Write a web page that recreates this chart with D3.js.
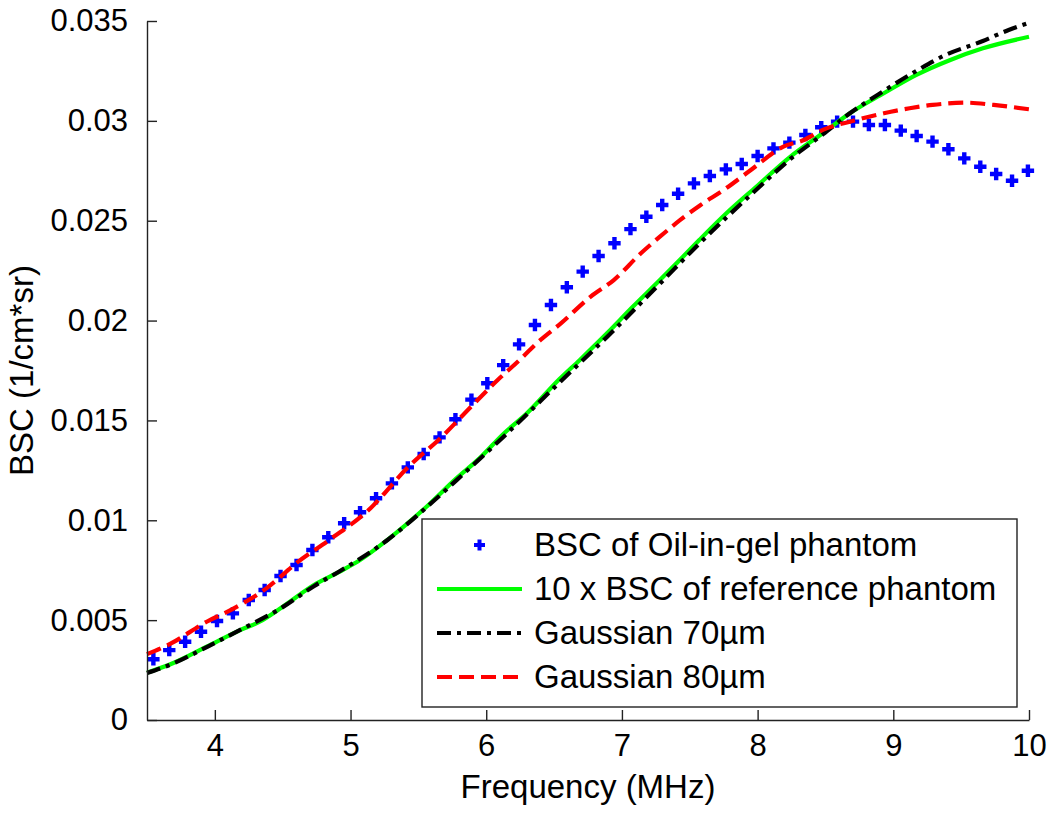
<!DOCTYPE html>
<html>
<head>
<meta charset="utf-8">
<script src="https://cdn.jsdelivr.net/npm/d3@7/dist/d3.min.js"></script>
<style>
  html, body { margin: 0; padding: 0; background: #fff; }
  svg { display: block; }
  text { font-family: "Liberation Sans", Arial, Helvetica, sans-serif; fill: #000; }
</style>
</head>
<body>
<svg id="chart" width="1050" height="813"></svg>
<script>
// ---------------- data ----------------
const xTicks = [4, 5, 6, 7, 8, 9, 10];
const yTicks = [0, 0.005, 0.01, 0.015, 0.02, 0.025, 0.03, 0.035];
const yTickLabels = ["0", "0.005", "0.01", "0.015", "0.02", "0.025", "0.03", "0.035"];

// BSC of Oil-in-gel phantom (blue crosses)
const oilFreq = [3.547, 3.664, 3.781, 3.898, 4.016, 4.133, 4.250, 4.367, 4.484, 4.602,
  4.719, 4.836, 4.953, 5.070, 5.188, 5.305, 5.422, 5.539, 5.656, 5.773,
  5.891, 6.008, 6.125, 6.242, 6.359, 6.477, 6.594, 6.711, 6.828, 6.945,
  7.063, 7.180, 7.297, 7.414, 7.531, 7.648, 7.766, 7.883, 8.000, 8.117,
  8.234, 8.352, 8.469, 8.586, 8.703, 8.820, 8.938, 9.055, 9.172, 9.289,
  9.406, 9.523, 9.641, 9.758, 9.875, 9.992];
const oilBSC = [0.00304, 0.00350, 0.00392, 0.00442, 0.00496, 0.00534, 0.00601, 0.00651, 0.00721, 0.00776,
  0.00851, 0.00915, 0.00985, 0.01040, 0.01110, 0.01185, 0.01265, 0.01332, 0.01415, 0.01506,
  0.01604, 0.01686, 0.01777, 0.01881, 0.01978, 0.02078, 0.02167, 0.02245, 0.02323, 0.02387,
  0.02458, 0.02520, 0.02579, 0.02635, 0.02687, 0.02724, 0.02757, 0.02784, 0.02824, 0.02862,
  0.02891, 0.02929, 0.02968, 0.02996, 0.02996, 0.02979, 0.02979, 0.02951, 0.02924, 0.02896,
  0.02858, 0.02812, 0.02770, 0.02734, 0.02700, 0.02750];

// 10 x BSC of reference phantom (green)
const refFreq = [3.50, 3.69, 3.94, 4.19, 4.33, 4.50, 4.73, 4.92, 5.07, 5.27, 5.56, 5.78, 5.95, 6.13,
  6.30, 6.54, 6.69, 6.89, 7.08, 7.28, 7.45, 7.57, 7.77, 7.99, 8.24, 8.48, 8.68, 8.93, 9.17,
  9.42, 9.66, 10.0];
const refBSC = [0.00237, 0.00284, 0.00367, 0.00451, 0.00492, 0.00567, 0.00676, 0.00743, 0.00801, 0.00901,
  0.01068, 0.01210, 0.01310, 0.01435, 0.01536, 0.01707, 0.01803, 0.01936, 0.02069, 0.02203,
  0.02320, 0.02403, 0.02537, 0.02670, 0.02820, 0.02938, 0.03038, 0.03138, 0.03230, 0.03305,
  0.03363, 0.03421];

// Gaussian 70um (black dash-dot)
const g70Freq = [3.50, 3.69, 3.94, 4.19, 4.50, 4.73, 4.92, 5.27, 5.56, 5.78, 6.13, 6.54, 6.89,
  7.28, 7.57, 7.99, 8.24, 8.48, 8.68, 8.93, 9.17, 9.37, 9.66, 9.85, 10.0];
const g70BSC = [0.00235, 0.00282, 0.00365, 0.00452, 0.00565, 0.00670, 0.00745, 0.00900, 0.01065,
  0.01200, 0.01420, 0.01690, 0.01918, 0.02185, 0.02385, 0.02655, 0.02808, 0.02932, 0.03038,
  0.03150, 0.03250, 0.03325, 0.03400, 0.03455, 0.03491];

// Gaussian 80um (red dashed)
const g80Freq = [3.50, 3.67, 3.94, 4.14, 4.38, 4.60, 4.85, 5.12, 5.44, 5.66, 5.90, 6.09, 6.22,
  6.40, 6.55, 6.77, 6.94, 7.14, 7.28, 7.43, 7.58, 7.75, 7.95, 8.19, 8.34, 8.48, 8.68, 8.93,
  9.12, 9.29, 9.54, 9.74, 10.0];
const g80BSC = [0.00330, 0.00381, 0.00492, 0.00559, 0.00659, 0.00785, 0.00905, 0.01043, 0.01277,
  0.01410, 0.01577, 0.01706, 0.01786, 0.01903, 0.01986, 0.02120, 0.02203, 0.02337, 0.02420,
  0.02504, 0.02579, 0.02654, 0.02754, 0.02871, 0.02904, 0.02955, 0.02996, 0.03038, 0.03063,
  0.03080, 0.03091, 0.03080, 0.03058];

const legendLabels = ["BSC of Oil-in-gel phantom", "10 x BSC of reference phantom", "Gaussian 70\u00b5m", "Gaussian 80\u00b5m"];

// ---------------- drawing ----------------
const svg = d3.select("#chart");
const L = 147, R = 1029, T = 21, B = 720;
const x = d3.scaleLinear().domain([3.5, 10]).range([L, R]);
const y = d3.scaleLinear().domain([0, 0.035]).range([B, T]);
const axisColor = "#222";
const fsTick = 31, fsLabel = 33;

const zip = (a, b) => a.map((f, i) => [f, b[i]]);
const line = d3.line().x(d => x(d[0])).y(d => y(d[1])).curve(d3.curveMonotoneX);

const plot = svg.append("g");
const crossPath = s => `M${-s},0H${s}M0,${-s}V${s}`;

// crosses
plot.append("g").selectAll("path").data(zip(oilFreq, oilBSC)).join("path")
  .attr("transform", d => `translate(${x(d[0])},${y(d[1])})`)
  .attr("d", crossPath(6.2))
  .attr("stroke", "#0000ff").attr("stroke-width", 4.4).attr("fill", "none");

// green
plot.append("path").datum(zip(refFreq, refBSC)).attr("d", line)
  .attr("fill", "none").attr("stroke", "#00ff00").attr("stroke-width", 4.2);
// black dash-dot
plot.append("path").datum(zip(g70Freq, g70BSC)).attr("d", line)
  .attr("fill", "none").attr("stroke", "#000").attr("stroke-width", 4.2)
  .attr("stroke-dasharray", "14,6,4,6");
// red dashed
plot.append("path").datum(zip(g80Freq, g80BSC)).attr("d", line)
  .attr("fill", "none").attr("stroke", "#ff0000").attr("stroke-width", 4.2)
  .attr("stroke-dasharray", "15,7");

// axes
const xAxis = d3.axisBottom(x).tickValues(xTicks).tickSizeInner(-10).tickSizeOuter(0).tickPadding(14)
  .tickFormat(d3.format("d"));
const gx = svg.append("g").attr("transform", `translate(0,${B})`).call(xAxis);
const yAxis = d3.axisLeft(y).tickValues(yTicks).tickSizeInner(-10).tickSizeOuter(0).tickPadding(19)
  .tickFormat((d, i) => yTickLabels[i]);
const gy = svg.append("g").attr("transform", `translate(${L},0)`).call(yAxis);
[gx, gy].forEach(g => {
  g.select(".domain").attr("stroke", axisColor).attr("stroke-width", 1.4);
  g.selectAll(".tick line").attr("stroke", axisColor).attr("stroke-width", 1.4);
  g.selectAll(".tick text").attr("font-size", fsTick).attr("fill", "#000")
    .style("font-family", '"Liberation Sans", Arial, sans-serif');
});

// axis labels
svg.append("text").attr("x", (L + R) / 2).attr("y", 798).attr("text-anchor", "middle")
  .attr("font-size", fsLabel).text("Frequency (MHz)");
svg.append("text").attr("transform", `translate(33,${(T + B) / 2}) rotate(-90)`).attr("text-anchor", "middle")
  .attr("font-size", fsLabel).text("BSC (1/cm*sr)");

// legend
const lg = svg.append("g");
lg.append("rect").attr("x", 422).attr("y", 519).attr("width", 595).attr("height", 188)
  .attr("fill", "#fff").attr("stroke", axisColor).attr("stroke-width", 1.4);
const rowBase = [556, 600, 644, 688];
const sampleX0 = 437, sampleX1 = 522;
legendLabels.forEach((lab, i) => {
  lg.append("text").attr("x", 534).attr("y", rowBase[i]).attr("font-size", fsLabel).text(lab);
});
const cy = rowBase.map(b => b - 11);
lg.append("path").attr("transform", `translate(${(sampleX0 + sampleX1) / 2},${cy[0]})`)
  .attr("d", crossPath(5.5)).attr("stroke", "#0000ff").attr("stroke-width", 4).attr("fill", "none");
lg.append("line").attr("x1", sampleX0).attr("x2", sampleX1).attr("y1", cy[1]).attr("y2", cy[1])
  .attr("stroke", "#00ff00").attr("stroke-width", 4.2);
lg.append("line").attr("x1", sampleX0).attr("x2", sampleX1).attr("y1", cy[2]).attr("y2", cy[2])
  .attr("stroke", "#000").attr("stroke-width", 4.2).attr("stroke-dasharray", "14,6,4,6");
lg.append("line").attr("x1", sampleX0).attr("x2", sampleX1).attr("y1", cy[3]).attr("y2", cy[3])
  .attr("stroke", "#ff0000").attr("stroke-width", 4.2).attr("stroke-dasharray", "15,7");
</script>
</body>
</html>
